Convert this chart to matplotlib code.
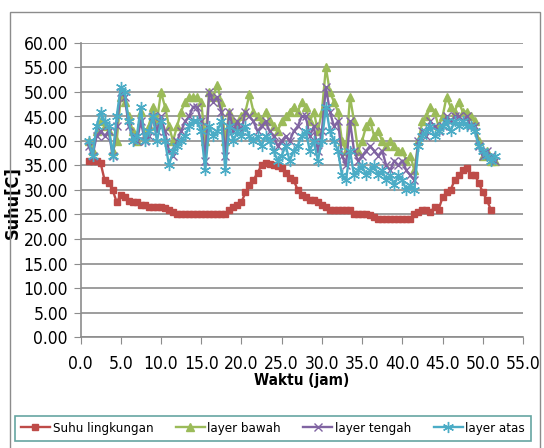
import matplotlib.pyplot as plt
import numpy as np
from matplotlib.patches import Rectangle
from matplotlib import font_manager

# Waktu pengukuran (jam), interval 0.5 jam
waktu = np.arange(1.0, 52.0, 0.5)

suhu_lingkungan = [
    36.0, 36.0, 36.0, 35.5, 32.0, 31.5, 30.0, 27.5, 29.0, 28.5,
    27.8, 27.5, 27.5, 27.0, 27.0, 26.5, 26.5, 26.5, 26.5, 26.3,
    26.0, 25.5, 25.0, 25.0, 25.0, 25.0, 25.0, 25.0, 25.0, 25.0,
    25.0, 25.0, 25.0, 25.0, 25.0, 26.0, 26.5, 27.0, 27.5, 29.5,
    31.0, 32.0, 33.5, 35.0, 35.5, 35.3, 35.0, 34.8, 34.5, 33.5,
    32.5, 32.0, 30.0, 29.0, 28.5, 28.0, 28.0, 27.5, 27.0, 26.5,
    26.0, 26.0, 26.0, 26.0, 26.0, 26.0, 25.0, 25.0, 25.0, 25.0,
    24.8, 24.5, 24.0, 24.0, 24.0, 24.0, 24.0, 24.0, 24.0, 24.0,
    24.0, 25.0, 25.5, 26.0, 26.0, 25.5, 26.5, 26.0, 28.5, 29.5,
    30.0, 32.0, 33.0, 34.0, 34.5, 33.0, 33.0, 31.5, 29.5, 28.0,
    26.0,
]

layer_bawah = [
    40, 38, 42, 44, 43, 42, 38, 40, 49, 48,
    45, 42, 40, 46, 41, 43, 47, 44, 50, 47,
    43, 40, 43, 46, 48, 49, 49, 49, 48, 40,
    50, 49, 51.5, 48, 40, 46, 44, 43, 45, 46,
    49.5, 46, 45, 44, 46, 44, 43, 42, 44, 45,
    46, 47, 46, 48, 47, 44, 46, 42, 46, 55,
    50, 48, 46, 40, 38, 49, 44, 38, 40, 43,
    44, 41, 42, 40, 39, 40, 39, 38, 38, 36,
    37, 34, 40, 44, 45, 47, 46, 43, 45, 49,
    47, 46, 48, 46, 46, 45, 44, 40, 37, 38,
    36, 36,
]

layer_tengah = [
    39, 37, 41, 42, 41, 42, 37, 43, 50, 49,
    43, 41, 40, 44, 40, 41, 45, 42, 45, 42,
    38, 37, 40, 42, 44, 45, 47, 47, 44, 36,
    50, 48, 49, 46, 37, 46, 42, 44, 42, 46,
    45, 44, 42, 43, 44, 42, 41, 39, 40, 41,
    40, 42, 43, 45, 45, 41, 43, 38, 42, 51,
    46, 43, 44, 37, 35, 44, 38, 36, 37, 38,
    39, 38, 37, 38, 35, 34, 36, 35, 36, 34,
    33, 32, 40, 42, 41, 44, 43, 42, 43, 45,
    44, 45, 45, 44, 45, 43, 43, 39, 37, 38,
    37, 36,
]

layer_atas = [
    40, 37, 43, 46, 44, 43, 37, 45, 51, 50,
    44, 40, 41, 47, 40, 42, 45, 40, 44, 40,
    35, 38, 39, 40, 41, 43, 44, 44, 42, 34,
    43, 41, 42, 44, 34, 43, 40, 42, 41, 43,
    41, 40, 41, 39, 41, 40, 38, 36, 37, 39,
    36, 38, 39, 41, 42, 38, 40, 36, 40, 47,
    42, 40, 38, 33, 32, 38, 33, 34, 35, 33,
    34, 35, 33, 34, 32, 33, 31, 33, 32, 30,
    31, 30, 39, 41, 42, 43, 41, 42, 43, 44,
    42, 44, 43, 44, 43, 43, 42, 39, 38, 37,
    36, 37,
]

names = ["Suhu lingkungan", "layer bawah", "layer tengah", "layer atas"]
colors = ["#BE4B48", "#9BBB59", "#8064A2", "#4BACC6"]
markers = ["s", "^", "x", (6, 2, 0)]
msizes = [4.5, 6, 6, 8]

# pick a condensed face if one is available, otherwise shrink DejaVu
narrow_faces = [f for f in font_manager.fontManager.ttflist
                if f.stretch in ("condensed", "semi-condensed", "extra-condensed")
                and f.style == "normal" and f.weight in (400, "normal", "regular")]
if narrow_faces:
    fam, stretch = narrow_faces[0].name, narrow_faces[0].stretch
    tick_fs, leg_fs, lab_fs = 12.5, 9.5, 11
else:
    fam, stretch = "DejaVu Sans", "normal"
    tick_fs, leg_fs, lab_fs = 10, 8, 10
plt.rcParams["font.family"] = [fam, "DejaVu Sans"]
plt.rcParams["font.stretch"] = stretch

fig = plt.figure(figsize=(5.44, 4.48), dpi=100)
W, H = 544, 448
ax = fig.add_axes([80.5 / W, 1 - 337 / H, (523 - 80.5) / W, (337 - 43) / H])

series = [suhu_lingkungan, layer_bawah, layer_tengah, layer_atas]
for i, ys in enumerate(series):
    xs = waktu[:len(ys)]
    ax.plot(xs, ys, color=colors[i], marker=markers[i], markersize=msizes[i],
            linewidth=1.7, markeredgewidth=1.0, label=names[i])

ax.set_xlim(0, 55)
ax.set_ylim(0, 60)
ax.set_xticks(np.arange(0, 56, 5))
ax.set_yticks(np.arange(0, 61, 5))
ax.set_xticklabels([f"{v:.1f}" for v in np.arange(0, 56, 5)])
ax.set_yticklabels([f"{v:.2f}" for v in np.arange(0, 61, 5)])

ax.grid(axis="y", color="#8c8c8c", linewidth=1.2)
ax.set_axisbelow(True)
for s in ["top", "right"]:
    ax.spines[s].set_visible(False)
for s in ["left", "bottom"]:
    ax.spines[s].set_color("#8c8c8c")
    ax.spines[s].set_linewidth(1.2)
ax.tick_params(axis="x", length=5, color="#8c8c8c", pad=8, labelsize=tick_fs)
ax.tick_params(axis="y", length=5, color="#8c8c8c", pad=4, labelsize=tick_fs)

ax.set_xlabel("Waktu (jam)", fontsize=lab_fs, fontweight="bold", labelpad=0)
ax.set_ylabel("Suhu[C]", fontsize=13, fontweight="bold")
ax.yaxis.set_label_coords(-0.133, 0.456)

leg = fig.legend(loc="center", bbox_to_anchor=(273 / W, 1 - 428.5 / H), ncol=4,
                 fontsize=leg_fs, frameon=True, fancybox=False, handlelength=2.2,
                 columnspacing=1.7, handletextpad=0.2, borderpad=0.45,
                 borderaxespad=0)
leg.get_frame().set_edgecolor("#3f8f8a")
leg.get_frame().set_linewidth(1.2)

fig.patches.append(Rectangle((10 / W, -0.02), (540 - 10) / W, 1.02 - 12 / H,
                             transform=fig.transFigure, fill=False,
                             edgecolor="#8c8c8c", linewidth=1.0))

fig.savefig("out.png", dpi=100)
